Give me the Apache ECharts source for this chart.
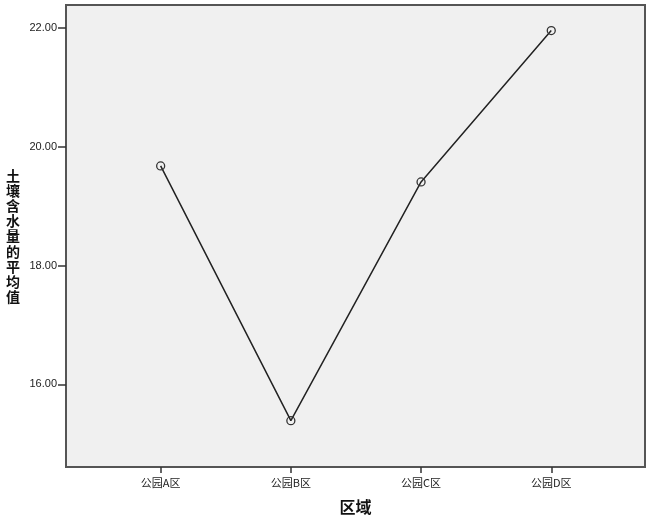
<!DOCTYPE html>
<html>
<head>
<meta charset="utf-8">
<script src="https://cdn.jsdelivr.net/npm/echarts@6/dist/echarts.min.js"></script>
<style>
  html, body { margin: 0; padding: 0; background: #fff; }
  #chart { width: 650px; height: 517px; }
</style>
</head>
<body>
<div id="chart"></div>
<script>
// 区域 / 土壤含水量的平均值
var categories = ['公园A区', '公园B区', '公园C区', '公园D区'];
var meanValues = [19.68, 15.39, 19.41, 21.96];
var yTicks = [16, 18, 20, 22];

var points = categories.map(function (c, i) { return [i, meanValues[i]]; });
var catIndex = categories.map(function (c, i) { return i; });

var myChart = echarts.init(document.getElementById('chart'));
var font = '"Noto Sans CJK SC", "Liberation Sans", sans-serif';

myChart.setOption({
  backgroundColor: '#fff',
  animation: false,
  grid: {
    left: 66, right: 5, top: 5, bottom: 50,
    outerBoundsMode: 'none',
    containLabel: false,
    show: true,
    backgroundColor: '#f0f0f0',
    borderColor: '#555',
    borderWidth: 2
  },
  xAxis: {
    type: 'value',
    min: -0.727,
    max: 3.72,
    name: '区域',
    nameLocation: 'middle',
    nameGap: 32,
    nameTextStyle: { fontFamily: font, fontSize: 16, fontWeight: 'bold', color: '#111' },
    axisLine: { show: true, onZero: false, lineStyle: { color: '#555', width: 2 } },
    axisTick: { show: true, length: 6, customValues: catIndex, lineStyle: { color: '#333', width: 1.5 } },
    axisLabel: {
      customValues: catIndex,
      margin: 10,
      fontFamily: font,
      fontSize: 11,
      color: '#222',
      formatter: function (v) { return categories[Math.round(v)]; }
    },
    splitLine: { show: false }
  },
  yAxis: {
    type: 'value',
    min: 14.61,
    max: 22.39,
    name: '土壤含水量的平均值'.split('').join('\n'),
    nameLocation: 'middle',
    nameRotate: 0,
    nameGap: 46,
    nameTextStyle: { fontFamily: font, fontSize: 14, fontWeight: 'bold', color: '#111', lineHeight: 15.2 },
    axisLine: { show: true, onZero: false, lineStyle: { color: '#555', width: 2 } },
    axisTick: { show: true, length: 8, customValues: yTicks, lineStyle: { color: '#333', width: 1.5 } },
    axisLabel: {
      customValues: yTicks,
      margin: 9,
      fontFamily: '"Liberation Sans", Arial, sans-serif',
      fontSize: 11,
      color: '#222',
      formatter: function (v) { return v.toFixed(2); }
    },
    splitLine: { show: false }
  },
  series: [{
    type: 'line',
    data: points,
    symbol: 'circle',
    symbolSize: 8,
    showAllSymbol: true,
    lineStyle: { color: '#222', width: 1.5 },
    itemStyle: { color: 'rgba(0,0,0,0)', borderColor: '#333', borderWidth: 1.3 }
  }]
});
</script>
</body>
</html>
